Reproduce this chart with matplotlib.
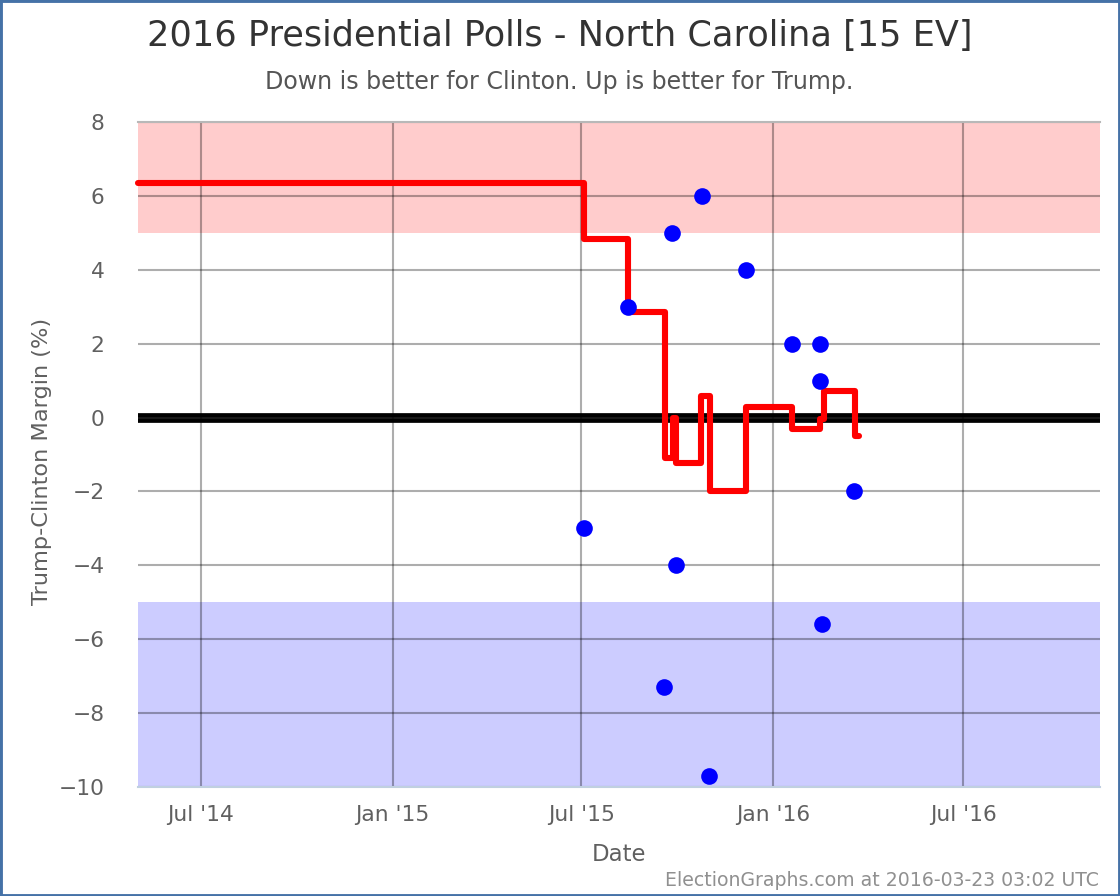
import pandas as pd
from matplotlib import pyplot as plt
from matplotlib.patches import Rectangle

W, H = 1120, 896

# Running average, as steps
avg_dates = ['2014-05-02', '2015-07-03', '2015-07-03', '2015-08-15', '2015-08-15', '2015-09-19',
             '2015-09-19', '2015-09-27', '2015-09-27', '2015-09-30', '2015-09-30', '2015-10-24',
             '2015-10-24', '2015-11-01', '2015-11-01', '2015-12-06', '2015-12-06', '2016-01-19',
             '2016-01-19', '2016-02-15', '2016-02-15', '2016-02-18', '2016-02-18', '2016-03-19',
             '2016-03-19', '2016-03-23']
avg_margin = [6.35, 6.35, 4.83, 4.83, 2.85, 2.85,
              -1.09, -1.09, -0.01, -0.01, -1.23, -1.23,
              0.58, 0.58, -1.98, -1.98, 0.29, 0.29,
              -0.31, -0.31, -0.05, -0.05, 0.71, 0.71,
              -0.49, -0.49]

# Individual polls
poll_dates = ['2015-07-03', '2015-08-15', '2015-09-18', '2015-09-26', '2015-09-30', '2015-10-25',
              '2015-10-31', '2015-12-06', '2016-01-19', '2016-02-15', '2016-02-15', '2016-02-17',
              '2016-03-18']
poll_margin = [-3, 3, -7.3, 5, -4, 6, -9.7, 4, 2, 2, 1, -5.6, -2]

y_ticks = [-10, -8, -6, -4, -2, 0, 2, 4, 6, 8]
x_tick_dates = ['2014-07-01', '2015-01-01', '2015-07-01', '2016-01-01', '2016-07-01']
x_tick_labels = ["Jul '14", "Jan '15", "Jul '15", "Jan '16", "Jul '16"]

avg_dates = pd.to_datetime(avg_dates)
poll_dates = pd.to_datetime(poll_dates)
x_ticks = pd.to_datetime(x_tick_dates)

fig = plt.figure(figsize=(W / 100, H / 100), dpi=100)
left, right, top, bottom = 138, 1100, 122, 787
ax = fig.add_axes([left / W, 1 - bottom / H, (right - left) / W, (bottom - top) / H])

# Strong Trump / strong Clinton bands
ax.axhspan(5, 8, color='#FFCCCC', lw=0, zorder=0)
ax.axhspan(-10, -5, color='#CCCCFF', lw=0, zorder=0)
ax.grid(True, color='black', alpha=0.32, linewidth=1.5, zorder=1)
ax.set_axisbelow(True)

ax.plot([pd.Timestamp('2014-05-02'), pd.Timestamp('2016-11-09')], [0.07, 0.07], color='black', lw=3.4, zorder=2)
ax.plot([pd.Timestamp('2014-05-02'), pd.Timestamp('2016-11-09')], [-0.07, -0.07], color='black', lw=3.4, zorder=2)

ax.plot(avg_dates, avg_margin, color='#FF0000', lw=4.4, solid_joinstyle='round',
        solid_capstyle='round', clip_on=False, zorder=3)
ax.plot(poll_dates, poll_margin, 'o', color='#0000FF', ms=12, mew=0, zorder=4)

ax.set_xlim(pd.Timestamp('2014-05-02'), pd.Timestamp('2016-11-09'))
ax.set_ylim(-10, 8)
ax.set_yticks(y_ticks)
ax.set_xticks(x_ticks)
ax.set_xticklabels(x_tick_labels)
ax.tick_params(length=0, labelsize=15.7, labelcolor='#606060')
ax.tick_params(axis='x', pad=13)
ax.tick_params(axis='y', pad=24)

for s in ['left', 'right']:
    ax.spines[s].set_visible(False)
ax.spines['top'].set_color('#B8B8B8')
ax.spines['top'].set_linewidth(1.5)
ax.spines['bottom'].set_color('#C0D0E0')
ax.spines['bottom'].set_linewidth(1.5)

ax.set_xlabel('Date', fontsize=16.4, color='#606060', labelpad=13)
ax.set_ylabel('Trump-Clinton Margin (%)', fontsize=16.2, color='#606060', labelpad=5, y=0.49)

fig.text(560 / W, 1 - 36 / H, '2016 Presidential Polls - North Carolina [15 EV]', fontsize=25.3,
         color='#333333', ha='center', va='center')
fig.text(559 / W, 1 - 82 / H, 'Down is better for Clinton. Up is better for Trump.', fontsize=17.1,
         color='#555555', ha='center', va='center')
fig.text(1099 / W, 1 - 880 / H, 'ElectionGraphs.com at 2016-03-23 03:02 UTC', fontsize=13.6,
         color='#909090', ha='right', va='center')

# Blue outline round the whole chart
fig.add_artist(Rectangle((0, 0), 1, 1, transform=fig.transFigure, fill=False,
                         edgecolor='#4572A7', linewidth=3.5))

plt.savefig('out.png', dpi=100)
